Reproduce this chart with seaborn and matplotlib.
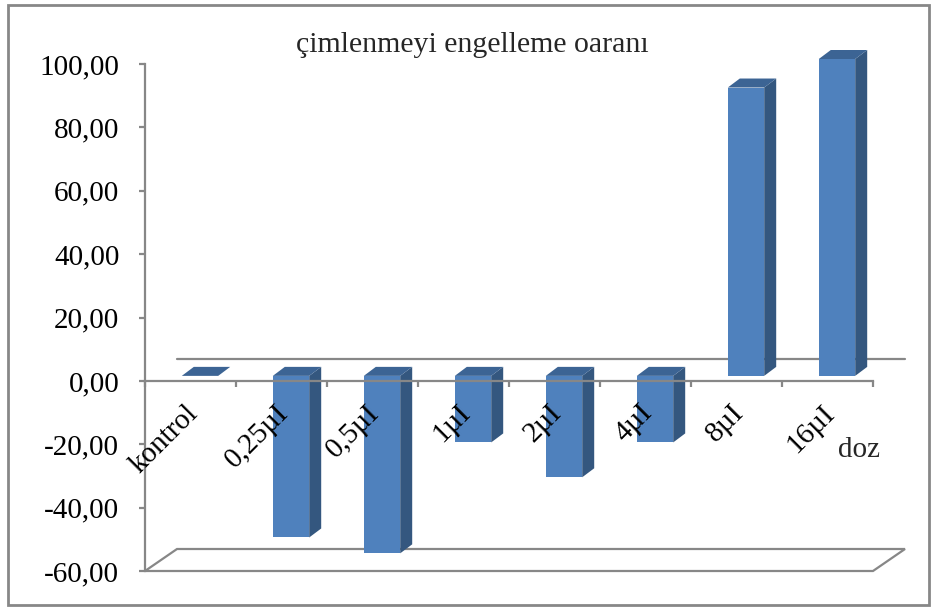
import matplotlib
matplotlib.use("Agg")
import matplotlib.pyplot as plt
import seaborn as sns
import pandas as pd
from matplotlib.patches import Polygon, Rectangle

# ---- data ----
categories = ["kontrol", "0,25µI", "0,5µI", "1µI", "2µI", "4µI", "8µI", "16µI"]
values = [0.0, -51.0, -56.0, -21.0, -32.0, -21.0, 91.0, 100.0]
yticks = [-60, -40, -20, 0, 20, 40, 60, 80, 100]
ytick_labels = ["-60,00", "-40,00", "-20,00", "0,00", "20,00", "40,00", "60,00", "80,00", "100,00"]
title = "çimlenmeyi engelleme oaranı"
xlabel = "doz"

FRONT = "#4F81BD"
SIDE = "#34577F"
TOP = "#3C6494"
GRAY = "#878787"

sns.set_theme(style="white")
plt.rcParams["font.family"] = ["Liberation Serif", "DejaVu Serif"]

W, H = 936, 608
fig = plt.figure(figsize=(W / 100, H / 100), dpi=100)
ax = fig.add_axes([145 / W, (H - 571) / H, 728 / W, 507 / H])

df = pd.DataFrame({"doz": categories, "oran": values})
sns.barplot(data=df, x="doz", y="oran", color=FRONT, saturation=1, width=0.4,
            ax=ax, zorder=1, linewidth=0)

ax.set_xlim(-0.5, len(categories) - 0.5)
ax.set_ylim(yticks[0], yticks[-1])
ax.set_xlabel("")
ax.set_ylabel("")

# pixel -> data conversion
p0 = ax.transData.transform((0, 0))
p1 = ax.transData.transform((1, 1))
sx, sy = p1[0] - p0[0], p1[1] - p0[1]

def off(dx_px, dy_px):
    return dx_px / sx, dy_px / sy

bdx, bdy = off(9.5, 5)     # bar front face offset from front plane
ddx, ddy = off(12, 9)      # bar depth
fdx, fdy = off(32, 22)     # floor depth

for p in list(ax.patches):
    p.set_clip_on(False)
    x = p.get_x() + bdx
    p.set_x(x)
    y0 = p.get_y() + bdy
    p.set_y(y0)
    w, h = p.get_width(), p.get_height()
    y1 = y0 + h
    x1 = x + w
    side = Polygon([(x1, y0), (x1 + ddx, y0 + ddy), (x1 + ddx, y1 + ddy), (x1, y1)],
                   closed=True, facecolor=SIDE, edgecolor="none", zorder=1, clip_on=False)
    ax.add_patch(side)
    yt = max(y0, y1)
    top = Polygon([(x, yt), (x1, yt), (x1 + ddx, yt + ddy), (x + ddx, yt + ddy)],
                  closed=True, facecolor=TOP, edgecolor="none", zorder=1, clip_on=False)
    ax.add_patch(top)

# floor and back zero line
xa, xb = -0.5, len(categories) - 0.5
floor = Polygon([(xa, yticks[0]), (xb, yticks[0]), (xb + fdx, yticks[0] + fdy), (xa + fdx, yticks[0] + fdy)],
                closed=True, fill=False, edgecolor=GRAY, linewidth=1.6, zorder=0.5, clip_on=False)
ax.add_patch(floor)
ax.plot([xa + fdx, xb + fdx], [fdy, fdy], color=GRAY, linewidth=1.6, zorder=0.5, clip_on=False)

# axes styling
for s in ["top", "right"]:
    ax.spines[s].set_visible(False)
ax.spines["left"].set_color(GRAY)
ax.spines["left"].set_linewidth(1.6)
ax.spines["bottom"].set_position(("data", 0))
ax.spines["bottom"].set_color(GRAY)
ax.spines["bottom"].set_linewidth(1.6)
ax.spines["bottom"].set_zorder(3)

ax.set_yticks(yticks)
ax.set_yticklabels(ytick_labels)
ax.set_xticks([i - 0.5 for i in range(len(categories) + 1)])
ax.set_xticklabels([])
ax.tick_params(axis="both", direction="out", length=4.5, width=1.6, color=GRAY,
               bottom=True, left=True)
ax.tick_params(axis="y", labelsize=21, pad=14, labelcolor="black")
ax.patch.set_alpha(0)

# category labels
lx, ly = off(-6, -19)
for i, c in enumerate(categories):
    ax.text(i + lx, ly, c, rotation=45, rotation_mode="anchor", ha="right", va="top",
            fontsize=21, color="black", clip_on=False)

fig.text(838 / W, 1 - 457 / H, xlabel, ha="left", va="baseline", fontsize=21)
fig.text(472 / W, 1 - 52 / H, title, ha="center", va="baseline", fontsize=21.5)

fig.patches.append(Rectangle((8 / W, 1 - 605 / H), 921 / W, 600 / H, transform=fig.transFigure,
                             fill=False, edgecolor=GRAY, linewidth=2))

fig.savefig("out.png", dpi=100)
